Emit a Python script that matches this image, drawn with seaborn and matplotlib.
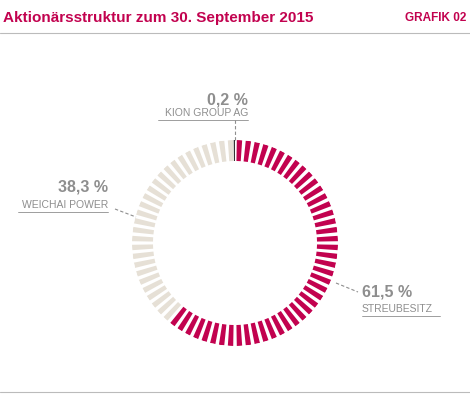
import numpy as np
import matplotlib
matplotlib.use("Agg")
import matplotlib.pyplot as plt
import seaborn as sns

labels = ["STREUBESITZ", "WEICHAI POWER", "KION GROUP AG"]
values = [61.5, 38.3, 0.2]
value_texts = ["61,5 %", "38,3 %", "0,2 %"]
colors = ["#C2024F", "#E6E0D6", "#333333"]

sns.set_theme(style="white")
plt.rcParams['font.family'] = ['Liberation Sans', 'DejaVu Sans']

W, H = 470, 400
fig = plt.figure(figsize=(W/100, H/100), dpi=100)
bg = fig.add_axes([0, 0, 1, 1])
bg.set_xlim(0, W); bg.set_ylim(H, 0); bg.axis("off")

crimson = "#C2024F"; gray = "#8E8E8E"
bg.text(3, 18, "Aktionärsstruktur zum 30. September 2015", color=crimson, fontsize=11, va="center", weight="bold")
bg.text(466, 18, "GRAFIK 02", color=crimson, fontsize=8.5, va="center", ha="right", weight="bold")
bg.plot([0, 470], [33, 33], color="#BBBBBB", lw=0.8)
bg.plot([0, 470], [392, 392], color="#BBBBBB", lw=0.8)

# donut
cx, cy, R, r = 235, 243, 103, 82
pax = fig.add_axes([(cx-R)/W, 1-(cy+R)/H, 2*R/W, 2*R/H], projection="polar")
pax.set_theta_zero_location("N"); pax.set_theta_direction(-1)
pax.set_ylim(0, R); pax.axis("off")
n = 72
centers = (np.arange(n) + 0.5) / n * 100
bounds = np.cumsum(values)
seg_cols = [colors[min(np.searchsorted(bounds, c), 2)] for c in centers]
pax.bar(centers/100*2*np.pi, R-r, width=2*np.pi/n*0.6, bottom=r, color=seg_cols, linewidth=0)
# tiny KION slice
pax.bar(2*np.pi*(1-values[2]/200), R-r, width=2*np.pi*values[2]/100, bottom=r, color=colors[2], linewidth=0)

# annotations
bg.plot([235, 235], [120, 140], ls=(0, (3, 2)), color=gray, lw=0.8)
bg.text(248, 100, value_texts[2], ha="right", va="center", color=gray, fontsize=11.5, weight="bold")
bg.text(248, 118, labels[2], ha="right", va="bottom", color=gray, fontsize=7.5)
bg.plot([158, 248], [120, 120], color=gray, lw=0.6)

bg.plot([115, 136], [209, 217], ls=(0, (3, 2)), color=gray, lw=0.8)
bg.text(108, 187, value_texts[1], ha="right", va="center", color=gray, fontsize=11.5, weight="bold")
bg.text(108, 210, labels[1], ha="right", va="bottom", color=gray, fontsize=7.5)
bg.plot([18, 108], [212, 212], color=gray, lw=0.6)

bg.plot([336, 358], [283, 292], ls=(0, (3, 2)), color=gray, lw=0.8)
bg.text(362, 292, value_texts[0], ha="left", va="center", color=gray, fontsize=11.5, weight="bold")
bg.text(362, 314, labels[0], ha="left", va="bottom", color=gray, fontsize=7.5)
bg.plot([362, 440], [316, 316], color=gray, lw=0.6)

fig.savefig("out.png", dpi=100)
